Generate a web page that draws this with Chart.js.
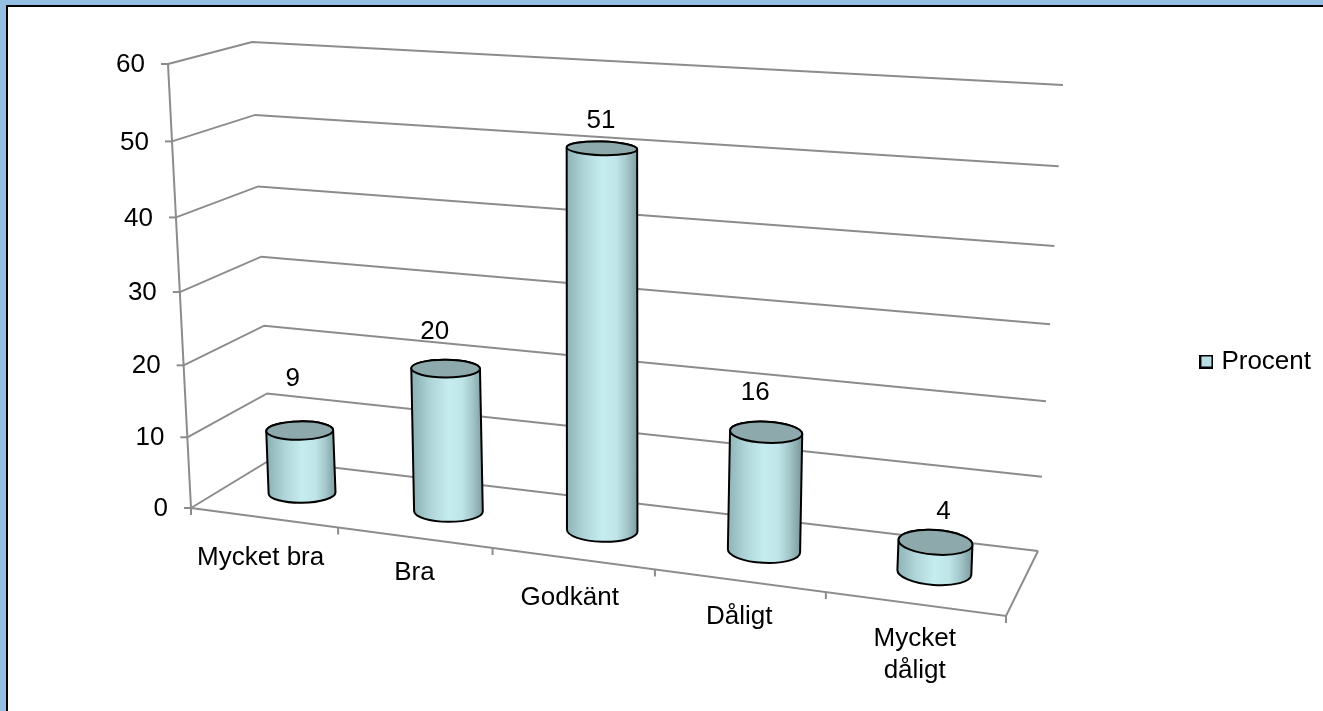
<!DOCTYPE html>
<html>
<head>
<meta charset="utf-8">
<title>Procent</title>
<style>
    html, body { margin: 0; height: 100%; background: #94bfe3; overflow: hidden; }
    #frame { position: absolute; left: 6px; top: 5px; right: 0; bottom: 0; background: #fff;
             border-top: 2px solid #000; border-left: 2px solid #000; }
    #chart { position: absolute; left: 0; top: 0; }
</style>
</head>
<body>
<div id="frame"></div>
<canvas id="chart" width="1323" height="711"></canvas>
<script src="https://cdn.jsdelivr.net/npm/chart.js@4"></script>
<script>
const categories = ["Mycket bra", "Bra", "Godkänt", "Dåligt", ["Mycket", "dåligt"]];
const procent = [9, 20, 51, 16, 4];
const seriesName = "Procent";

// nudges of the labels, they sit a little unevenly in the original
const labelNudge = [[-7, -52], [-11, -37], [-1, -28], [-11, -39], [8, -31]];
const categoryNudge = [[-3, 40], [0, 35], [-3, 39], [0, 36], [0, 35]];

const FAMILY = "'Liberation Sans', Arial, sans-serif";
const FONT = "26px " + FAMILY;
const GRID = "#8c8c8c";

// corners of the 3D box on screen: front/back, left/right, floor/top
const box = {
    flFloor: [191, 508], frFloor: [1006, 616], blFloor: [270, 460], brFloor: [1038, 551],
    flTop: [168, 64], frTop: [1026, 124], blTop: [252, 42], brTop: [1063, 85]
};

function warp(t, a) {
    return t * a / (1 - t + t * a);
}

function mix(p, q, t) {
    return [p[0] + (q[0] - p[0]) * t, p[1] + (q[1] - p[1]) * t];
}

// u along the categories, v up the values, w into the depth, all 0..1
function project(u, v, w) {
    const U = warp(u, 0.881);
    const V = warp(v, 0.947);
    const front = mix(mix(box.flFloor, box.frFloor, U), mix(box.flTop, box.frTop, U), V);
    const back = mix(mix(box.blFloor, box.brFloor, U), mix(box.blTop, box.brTop, U), V);
    return mix(front, back, w);
}

function line(ctx, pts) {
    ctx.beginPath();
    pts.forEach((p, i) => i ? ctx.lineTo(p[0], p[1]) : ctx.moveTo(p[0], p[1]));
    ctx.stroke();
}

// legend swatch, an image so that the gap to the text can be as tight as in the original
function legendSwatch() {
    const swatch = document.createElement("canvas");
    swatch.width = 14;
    swatch.height = 14;
    const c = swatch.getContext("2d");
    c.fillStyle = "#b9dfe4";
    c.fillRect(0, 0, 14, 14);
    c.strokeStyle = "#000";
    c.lineWidth = 2;
    c.strokeRect(1, 1, 12, 12);
    return swatch;
}

const cylinders3d = {
    id: "cylinders3d",

    beforeDatasetsDraw(chart) {
        const ctx = chart.ctx;
        const y = chart.scales.y;
        const x = chart.scales.x;
        const area = chart.chartArea;
        const toV = value => (area.bottom - y.getPixelForValue(value)) / area.height;

        ctx.save();
        ctx.strokeStyle = GRID;
        ctx.lineWidth = 2;
        ctx.fillStyle = "#000";
        ctx.font = FONT;

        // walls and value axis
        ctx.textAlign = "right";
        ctx.textBaseline = "middle";
        y.ticks.forEach(tick => {
            const v = toV(tick.value);
            const p = project(0, v, 0);
            line(ctx, [p, project(0, v, 1), project(1, v, 1)]);
            line(ctx, [[p[0] - 7, p[1]], p]);
            ctx.fillText(tick.label, p[0] - 23, p[1] + 1);
        });
        line(ctx, [project(0, 0, 0), project(0, 1, 0)]);

        // floor and category axis
        line(ctx, [project(0, 0, 0), project(1, 0, 0), project(1, 0, 1)]);
        for (let i = 0; i <= categories.length; i++) {
            const p = project(i / categories.length, 0, 0);
            line(ctx, [p, [p[0], p[1] + 7]]);
        }
        ctx.textAlign = "center";
        categories.forEach((label, i) => {
            const u = (x.getPixelForValue(i) - area.left) / area.width;
            const p = project(u, 0, 0);
            [].concat(label).forEach((text, row) => {
                ctx.fillText(text, p[0] + categoryNudge[i][0], p[1] + categoryNudge[i][1] + row * 32);
            });
        });
        ctx.restore();
    },

    // the bars are replaced by cylinders standing on the floor of the box
    beforeDatasetDraw(chart, args) {
        const ctx = chart.ctx;
        const area = chart.chartArea;
        const dataset = chart.data.datasets[args.index];
        const meta = chart.getDatasetMeta(args.index);

        meta.data.forEach((bar, i) => {
            const u = (bar.x - area.left) / area.width;
            const v = (area.bottom - bar.y) / area.height;
            const base = project(u, 0, 0.5);
            const top = project(u, v, 0.5);
            const rx = 33 + 4.5 * u;
            const tilt = (u - 0.25) * 0.11;
            const depth = vv => (project(u, vv, 0)[1] - project(u, vv, 1)[1]) * 0.2;
            base[0] += 1;
            top[0] += 1;

            const fill = ctx.createLinearGradient(base[0] - rx, 0, base[0] + rx, 0);
            fill.addColorStop(0, "#8fb3b6");
            fill.addColorStop(0.25, "#b0d6d9");
            fill.addColorStop(0.5, "#c5ecee");
            fill.addColorStop(0.7, "#bfe5e8");
            fill.addColorStop(0.85, "#a3c7ca");
            fill.addColorStop(1, "#7f9da0");

            ctx.save();
            ctx.strokeStyle = "#000";
            ctx.lineWidth = 2;

            ctx.beginPath();
            ctx.ellipse(base[0], base[1], rx, depth(0), tilt, Math.PI, 0, true);
            ctx.ellipse(top[0], top[1], rx, depth(v), tilt, 0, Math.PI, true);
            ctx.closePath();
            ctx.fillStyle = fill;
            ctx.fill();
            ctx.stroke();

            ctx.beginPath();
            ctx.ellipse(top[0], top[1], rx, depth(v), tilt, 0, Math.PI * 2);
            ctx.fillStyle = "#8ea9ab";
            ctx.fill();
            ctx.stroke();

            ctx.fillStyle = "#000";
            ctx.font = FONT;
            ctx.textAlign = "center";
            ctx.textBaseline = "middle";
            ctx.fillText(dataset.data[i], top[0] + labelNudge[i][0], top[1] + labelNudge[i][1]);
            ctx.restore();
        });
        return false;
    }
};

new Chart(document.getElementById("chart"), {
    type: "bar",
    data: {
        labels: categories,
        datasets: [{
            label: seriesName,
            data: procent,
            backgroundColor: "#b9dfe4",
            borderColor: "#000",
            borderWidth: 2
        }]
    },
    options: {
        responsive: false,
        animation: false,
        layout: { padding: { right: 2, bottom: 0, top: 12 } },
        scales: {
            x: { display: false },
            y: { display: false, min: 0, max: 60, ticks: { stepSize: 10 } }
        },
        plugins: {
            tooltip: { enabled: false },
            legend: {
                position: "right",
                labels: {
                    usePointStyle: true,
                    pointStyle: legendSwatch(),
                    boxWidth: 4,
                    color: "#000",
                    padding: 8,
                    font: { family: FAMILY, size: 26 }
                }
            }
        }
    },
    plugins: [cylinders3d]
});
</script>
</body>
</html>
